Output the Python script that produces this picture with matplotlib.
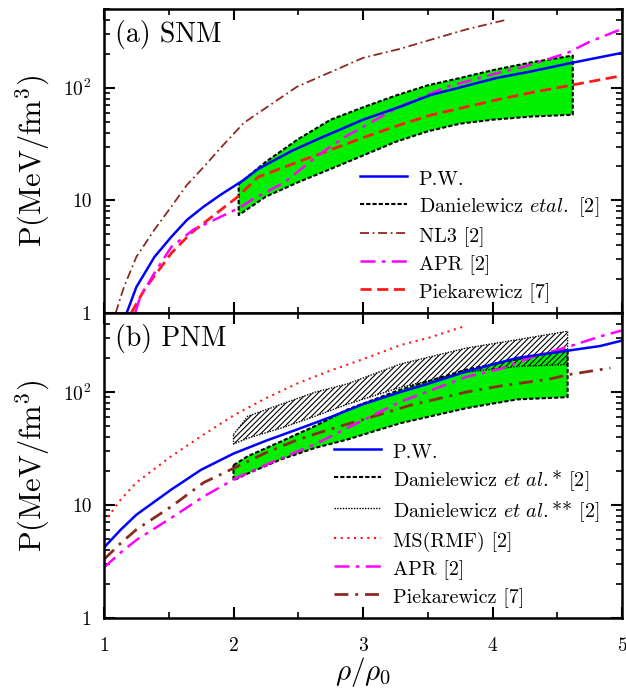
import matplotlib.pyplot as plt
from matplotlib.lines import Line2D
from matplotlib.ticker import FixedLocator, FuncFormatter, LogLocator, MultipleLocator

plt.rcParams['font.family'] = 'cmr10'
plt.rcParams['mathtext.fontset'] = 'cm'
plt.rcParams['axes.formatter.use_mathtext'] = True
plt.rcParams['hatch.linewidth'] = 0.8

# ---------------- (a) SNM ----------------
pw_snm_x = [1.175, 1.25, 1.39, 1.52, 1.64, 1.77, 1.9, 2.08, 2.19, 2.45, 2.64, 3.0, 3.29, 3.52, 4.03, 4.29, 4.62, 5.0]
pw_snm_y = [1.0, 1.7, 3.15, 4.74, 6.7, 8.8, 11.2, 15.2, 19.0, 27.5, 34.5, 52, 68, 86, 122, 139, 167, 204]

nl3_x = [1.09, 1.154, 1.25, 1.39, 1.52, 1.64, 1.77, 1.9, 2.08, 2.49, 3.0, 3.29, 3.52, 3.8, 4.11]
nl3_y = [1.0, 1.7, 3.15, 5.5, 8.8, 13.7, 19.8, 29.2, 48.8, 102, 184, 222, 266, 330, 402]

apr_snm_x = [1.24, 1.28, 1.39, 1.52, 1.62, 1.69, 1.85, 1.98, 2.06, 2.14, 2.4, 2.58, 2.71, 2.85, 3.26, 3.65, 4.08, 4.24, 4.58, 4.75, 4.98]
apr_snm_y = [1.0, 1.39, 2.27, 3.86, 4.74, 5.5, 6.7, 7.9, 8.8, 10.1, 14.6, 21.5, 28, 36, 66, 102, 139, 153, 204, 256, 326]

piek_snm_x = [1.21, 1.31, 1.52, 1.67, 1.83, 2.03, 2.19, 2.5, 2.71, 3.0, 3.29, 3.52, 4.03, 4.29, 4.62, 5.0]
piek_snm_y = [1.0, 1.6, 3.4, 5.1, 7.1, 10.7, 16.1, 22, 27, 36, 47, 57, 78, 90, 106, 128]

dan_snm_x = [2.04, 2.25, 2.5, 2.75, 3.0, 3.25, 3.5, 3.75, 4.0, 4.3, 4.62]
dan_snm_lo = [7.4, 10.8, 14.5, 19, 25, 33, 41, 48, 52, 55.5, 57.6]
dan_snm_hi = [14.0, 22, 35, 52, 67, 85, 105, 122, 143, 168, 193]

# ---------------- (b) PNM ----------------
pw_pnm_x = [1.0, 1.13, 1.25, 1.52, 1.75, 2.0, 2.25, 2.5, 2.75, 3.0, 3.29, 3.5, 3.8, 4.19, 4.58, 4.83, 5.0]
pw_pnm_y = [4.2, 6.06, 8.2, 13.7, 20.5, 28.5, 37, 47, 60, 78, 100, 118, 152, 200, 232, 255, 285]

ms_x = [1.0, 1.13, 1.25, 1.52, 1.77, 2.0, 2.25, 2.5, 2.75, 3.0, 3.29, 3.5, 3.8]
ms_y = [7.0, 11.2, 15.8, 27, 42, 62, 88, 120, 155, 195, 260, 300, 387]

apr_pnm_x = [1.0, 1.13, 1.25, 1.52, 1.77, 2.03, 2.3, 2.63, 2.94, 3.29, 3.8, 4.06, 4.31, 4.58, 4.83, 5.0]
apr_pnm_y = [2.8, 3.8, 4.9, 7.7, 11.9, 17.5, 24, 34.5, 52, 82, 136, 160, 205, 250, 310, 350]

piek_pnm_x = [1.0, 1.13, 1.25, 1.52, 1.77, 1.98, 2.25, 2.5, 2.75, 3.0, 3.36, 3.8, 4.06, 4.44, 4.58, 4.91]
piek_pnm_y = [3.3, 4.6, 6.06, 9.7, 15.8, 20.6, 29, 38, 47, 57, 76, 100, 113, 130, 142, 163]

dan1_x = [2.0, 2.11, 2.37, 2.63, 2.88, 3.29, 3.8, 4.19, 4.58]
dan1_lo = [16.5, 19, 25.4, 32, 38, 53, 72, 86, 90]
dan1_hi = [22.5, 27, 36.6, 50, 70, 105, 158, 195, 237]

dan2_x = [2.0, 2.11, 2.37, 2.63, 2.88, 3.29, 3.8, 4.19, 4.58]
dan2_lo = [34.6, 39, 48, 61, 78, 110, 150, 168, 175]
dan2_hi = [42, 61, 78, 99.6, 118, 177, 245, 290, 345]

BLUE = '#0000ff'
BROWN = '#8b2a1f'
MAG = '#ff00ff'
RED = '#ff1a1a'
GREEN = '#00f000'

fig = plt.figure(figsize=(6.26, 6.88), dpi=100)
ax1 = fig.add_axes([104/626, 1-313/688, 518/626, 304/688])
ax2 = fig.add_axes([104/626, 1-618/688, 518/626, 305/688])


def band(ax, x, lo, hi, face, hatch=None, ls=(0, (2, 1)), lw=1.5):
    if hatch:
        ax.fill_between(x, lo, hi, facecolor='none', edgecolor='k', hatch=hatch, linewidth=0)
    else:
        ax.fill_between(x, lo, hi, facecolor=face, edgecolor='none')
    bx = list(x) + list(x[::-1]) + [x[0]]
    by = list(hi) + list(lo[::-1]) + [hi[0]]
    ax.plot(bx, by, color='k', ls=ls, lw=lw)


leg_kw = dict(loc='lower right', bbox_to_anchor=(0.975, 0.0), frameon=False, fontsize=14.5,
              handlelength=2.3, handleheight=1.3, handletextpad=0.6, labelspacing=0.26, borderpad=0)

# panel a
band(ax1, dan_snm_x, dan_snm_lo, dan_snm_hi, GREEN)
ax1.plot(nl3_x, nl3_y, color=BROWN, lw=1.3, ls=(0, (5, 2, 1, 2)))
ax1.plot(piek_snm_x, piek_snm_y, color=RED, lw=2, ls=(0, (4, 2)))
ax1.plot(apr_snm_x, apr_snm_y, color=MAG, lw=1.8, ls=(0, (6, 2.5, 1.5, 2.5)))
ax1.plot(pw_snm_x, pw_snm_y, color=BLUE, lw=1.8)

h1 = [Line2D([], [], color=BLUE, lw=1.8),
      Line2D([], [], color='k', lw=1.5, ls=(0, (2, 1))),
      Line2D([], [], color=BROWN, lw=1.3, ls=(0, (5, 2, 1, 2))),
      Line2D([], [], color=MAG, lw=1.8, ls=(0, (6, 2.5, 1.5, 2.5))),
      Line2D([], [], color=RED, lw=2, ls=(0, (4, 2)))]
l1 = ['P.W.', r'Danielewicz $\mathit{etal.}$ [2]', 'NL3 [2]', 'APR [2]', 'Piekarewicz [7]']
ax1.legend(h1, l1, **leg_kw)
ax1.text(0.022, 0.965, '(a) SNM', transform=ax1.transAxes, fontsize=20, va='top', ha='left')

# panel b
band(ax2, dan1_x, dan1_lo, dan1_hi, GREEN)
band(ax2, dan2_x, dan2_lo, dan2_hi, None, hatch='//////', ls=(0, (1, 1)), lw=1.0)
ax2.plot(ms_x, ms_y, color=RED, lw=1.5, ls=(0, (1, 2.2)))
ax2.plot(piek_pnm_x, piek_pnm_y, color=BROWN, lw=2, ls=(0, (5, 2.5, 1, 2.5)))
ax2.plot(apr_pnm_x, apr_pnm_y, color=MAG, lw=1.8, ls=(0, (6, 2.5, 1.5, 2.5)))
ax2.plot(pw_pnm_x, pw_pnm_y, color=BLUE, lw=1.8)

h2 = [Line2D([], [], color=BLUE, lw=1.8),
      Line2D([], [], color='k', lw=1.5, ls=(0, (2, 1))),
      Line2D([], [], color='k', lw=1.0, ls=(0, (1, 1))),
      Line2D([], [], color=RED, lw=1.5, ls=(0, (1, 2.2))),
      Line2D([], [], color=MAG, lw=1.8, ls=(0, (6, 2.5, 1.5, 2.5))),
      Line2D([], [], color=BROWN, lw=2, ls=(0, (5, 2.5, 1, 2.5)))]
l2 = ['P.W.', r'Danielewicz $\mathit{et\ al.}$* [2]', r'Danielewicz $\mathit{et\ al.}$** [2]',
      'MS(RMF) [2]', 'APR [2]', 'Piekarewicz [7]']
ax2.legend(h2, l2, **leg_kw)
ax2.text(0.022, 0.965, '(b) PNM', transform=ax2.transAxes, fontsize=20, va='top', ha='left')


def ylab(v, pos):
    if v == 1:
        return '1'
    if v == 10:
        return '10'
    if v == 100:
        return r'$10^2$'
    return ''


for ax in (ax1, ax2):
    ax.set_yscale('log')
    ax.set_xlim(1, 5)
    ax.set_ylim(1, 500)
    ax.yaxis.set_major_locator(FixedLocator([1, 10, 100]))
    ax.yaxis.set_major_formatter(FuncFormatter(ylab))
    ax.yaxis.set_minor_locator(LogLocator(base=10, subs=range(2, 10)))
    ax.yaxis.set_minor_formatter(FuncFormatter(lambda v, p: ''))
    ax.xaxis.set_major_locator(MultipleLocator(1))
    ax.xaxis.set_minor_locator(MultipleLocator(0.5))
    ax.tick_params(which='both', direction='in', top=True, right=True, width=1.5)
    ax.tick_params(which='major', length=8, labelsize=14, pad=9)
    ax.tick_params(which='minor', length=4, width=1.2)
    for s in ax.spines.values():
        s.set_linewidth(1.8)
    ax.set_ylabel(r'P(MeV/fm$^3$)', fontsize=22)
    ax.yaxis.set_label_coords(-0.1, 0.5)

ax1.tick_params(axis='x', labelbottom=False)
ax2.tick_params(axis='x', which='major', pad=14)
ax2.set_xlabel(r'$\rho/\rho_0$', fontsize=21, labelpad=0)

fig.savefig('out.png', dpi=100)
